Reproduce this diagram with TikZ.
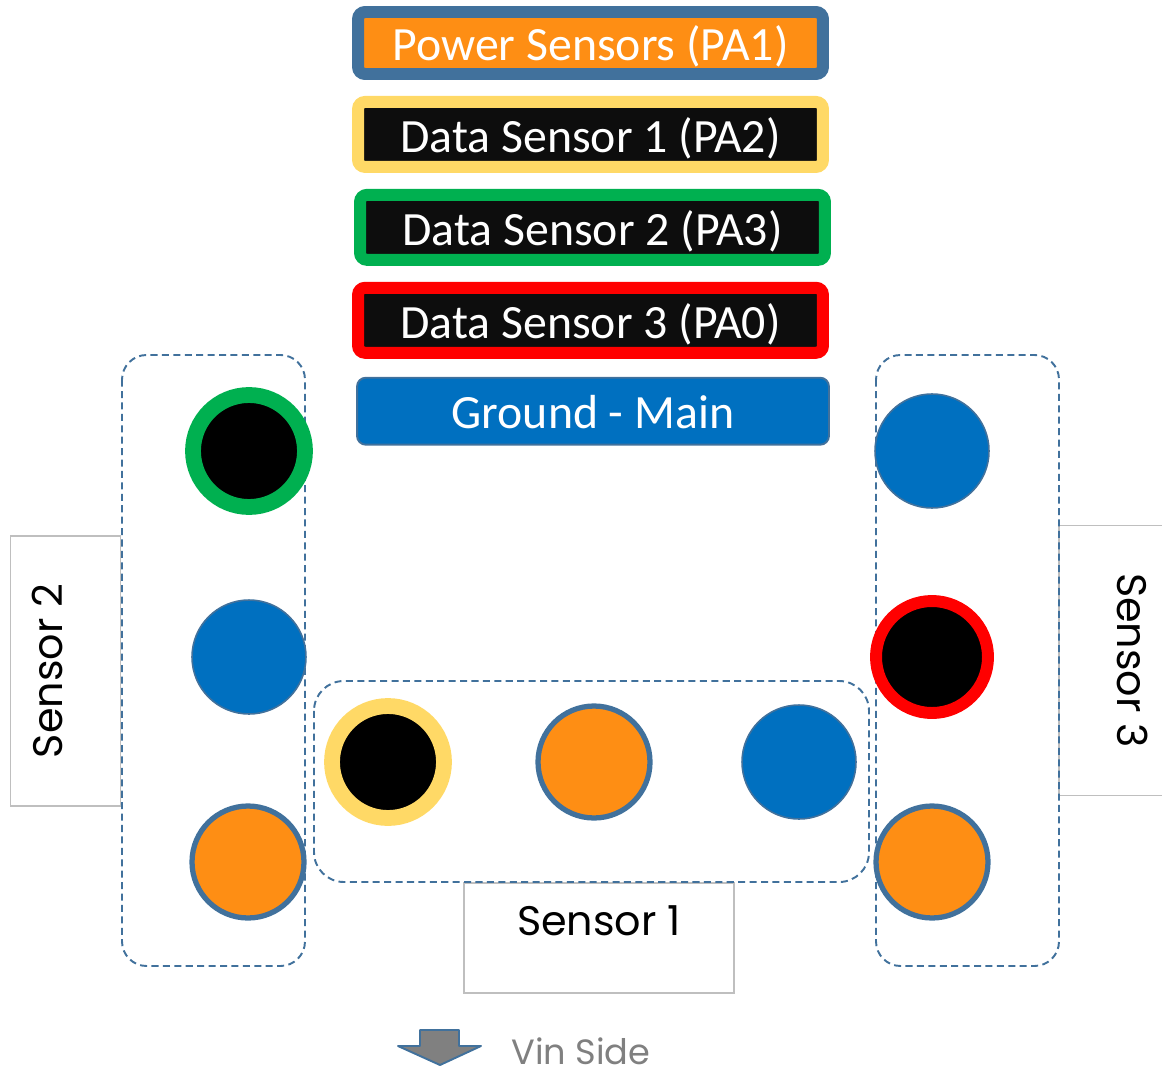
\documentclass[tikz,border=0pt]{standalone}
\usepackage{fontspec}
\setmainfont{Carlito}
\newfontfamily\gothicfont{Poppins}
\usepackage{xcolor}
\definecolor{EdgeBlue}{RGB}{65,113,156}
\definecolor{PowerOrange}{RGB}{254,142,20}
\definecolor{GroundBlue}{RGB}{0,112,192}
\definecolor{DataYellow}{RGB}{255,217,102}
\definecolor{DataGreen}{RGB}{0,176,80}
\definecolor{DataRed}{RGB}{255,0,0}
\definecolor{BoxBlack}{RGB}{13,13,13}
\definecolor{LabelGrey}{RGB}{191,191,191}
\definecolor{VinGrey}{RGB}{128,128,128}
\usetikzlibrary{positioning}

\begin{document}
\begin{tikzpicture}[
    x=0.02cm, y=0.02cm,
    every node/.style={font=\fontsize{27.2}{31}\selectfont},
    pinbox/.style={rectangle, line width=6.8pt, rounded corners=4pt, fill=BoxBlack, text=white, inner sep=0pt, text height=21.6pt, text depth=1.4pt, minimum width=9.3cm, minimum height=1.3cm},
    groundbox/.style={rectangle, draw=EdgeBlue, line width=1.1pt, rounded corners=5pt, fill=GroundBlue, text=white, inner sep=0pt, text height=21.6pt, text depth=1.4pt, minimum width=9.44cm, minimum height=1.34cm},
    pinring/.style={circle, fill=black, line width=9pt, minimum size=2.24cm, inner sep=0pt},
    powerpin/.style={circle, fill=PowerOrange, draw=EdgeBlue, line width=3pt, minimum size=2.24cm, inner sep=0pt},
    groundpin/.style={circle, fill=GroundBlue, draw=EdgeBlue, line width=0.9pt, minimum size=2.28cm, inner sep=0pt},
    groupbox/.style={draw=EdgeBlue, line width=1.1pt, dash pattern=on 4pt off 2.5pt, rounded corners=14pt},
    sensorlabel/.style={rectangle, draw=LabelGrey, line width=0.9pt, inner sep=0pt, minimum width=5.4cm, minimum height=2.2cm, text height=1.04cm, text depth=1.16cm, font=\gothicfont\fontsize{23.5}{28}\selectfont},
    vinarrow/.style={fill=VinGrey, draw=EdgeBlue, line width=1.1pt, line join=round},
]
\useasboundingbox (0,0) rectangle (1162,-1071);

% Pin legend
\node[pinbox, draw=EdgeBlue, fill=PowerOrange, minimum height=1.24cm] (power) at (590.5,-43) {Power Sensors (PA1)};
\node[pinbox, draw=DataYellow, below=0.32cm of power] (data1) {Data Sensor 1 (PA2)};
\node[pinbox, draw=DataGreen, below=0.32cm of data1, xshift=0.04cm] (data2) {Data Sensor 2 (PA3)};
\node[pinbox, draw=DataRed, below=0.32cm of data2, xshift=-0.04cm] (data3) {Data Sensor 3 (PA0)};
\node[groundbox, below=0.36cm of data3, xshift=0.05cm] (ground) {Ground - Main};

% Sensor labels
\node[sensorlabel] (sensor1) at (599,-938) {Sensor 1};
\node[sensorlabel, rotate=90] (sensor2) at (65.5,-671) {Sensor 2};
\node[sensorlabel, rotate=-90] (sensor3) at (1114,-660.5) {Sensor 3};

% Sensor groups
\draw[groupbox] (122,-355) rectangle (305,-966);
\draw[groupbox] (876,-355) rectangle (1059,-966);
\draw[groupbox, rounded corners=17pt] (314,-681) rectangle (869,-882);

% Sensor 2 pins
\node[pinring, draw=DataGreen] (s2data) at (249,-451) {};
\node[groundpin] (s2gnd) at (249,-657) {};
\node[powerpin] (s2pwr) at (248,-862) {};

% Sensor 1 pins
\node[pinring, draw=DataYellow] (s1data) at (388,-762) {};
\node[powerpin] (s1pwr) at (594,-762) {};
\node[groundpin] (s1gnd) at (799,-762) {};

% Sensor 3 pins
\node[groundpin] (s3gnd) at (932,-451) {};
\node[pinring, draw=DataRed, line width=6.8pt] (s3data) at (932,-657) {};
\node[powerpin] (s3pwr) at (932,-862) {};

% Vin side
\draw[vinarrow] (420,-1030) -- (459,-1030) -- (459,-1046) -- (481,-1046) -- (440,-1065) -- (398,-1046) -- (420,-1046) -- cycle;
\node[anchor=west, inner sep=0pt, text=VinGrey, font=\gothicfont\fontsize{20}{24}\selectfont] (vin) at (511,-1051) {Vin Side};

\end{tikzpicture}
\end{document}
